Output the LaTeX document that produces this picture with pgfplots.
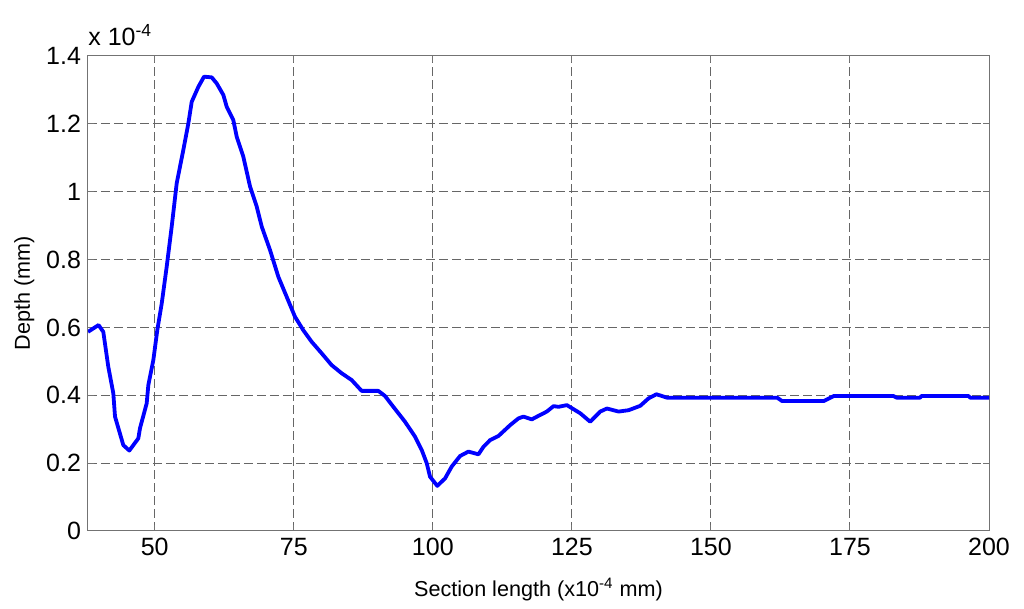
\documentclass[border=0pt]{standalone}
\usepackage{pgfplots}
\pgfplotsset{compat=1.18}
\usepackage{fontspec}
\setmainfont{Liberation Sans}
\begin{document}
\begin{tikzpicture}
\begin{axis}[
  scale only axis,
  width=450.5pt, height=237.5pt,
  xmin=38, xmax=200, ymin=0, ymax=1.4,
  xtick={50,75,100,125,150,175,200},
  ytick={0,0.2,0.4,0.6,0.8,1,1.2,1.4},
  /pgf/number format/assume math mode=true,
  tick label style={font=\fontsize{12.5}{14}\selectfont},
  label style={font=\fontsize{10.8}{12}\selectfont},
  xlabel={Section length (x10\textsuperscript{-4} mm)},
  ylabel={Depth (mm)},
  xlabel style={yshift=-4.5pt},
  ylabel style={yshift=-1pt},
  tick align=inside,
  major tick length=3pt,
  axis line style={black!55, line width=0.5pt},
  every tick/.style={black!55, line width=0.5pt},
  grid=major,
  major grid style={black!60, dash pattern=on 4.5pt off 2pt, line width=0.5pt},
]
\addplot[blue, line width=1.9pt, line join=round] coordinates {
(38.0,0.587) (39.9,0.607) (40.75,0.587) (41.65,0.484) (42.55,0.406) (42.86,0.337)
(44.35,0.253) (45.43,0.237) (47.05,0.273) (47.35,0.303) (48.55,0.376) (48.85,0.430)
(49.75,0.504) (50.46,0.592) (51.26,0.671) (52.15,0.779) (53.05,0.897) (53.95,1.025)
(55.14,1.123) (56.04,1.201) (56.65,1.265) (57.84,1.309) (58.86,1.339) (60.25,1.337)
(61.15,1.319) (62.34,1.285) (62.95,1.250) (64.13,1.211) (64.74,1.162) (65.93,1.103)
(67.14,1.015) (68.34,0.956) (69.24,0.897) (70.73,0.828) (72.23,0.749) (73.73,0.690)
(75.2,0.632) (76.7,0.592) (78.2,0.558) (80.0,0.524) (81.8,0.489) (83.6,0.465)
(85.4,0.445) (87.2,0.413) (90.2,0.413) (91.4,0.398) (92.9,0.366) (95.0,0.322)
(96.8,0.278) (98.0,0.239) (98.9,0.200) (99.5,0.160) (100.8,0.133) (102.2,0.155)
(103.4,0.190) (104.9,0.221) (106.4,0.234) (108.2,0.226) (109.1,0.248) (110.3,0.268)
(111.8,0.280) (113.9,0.312) (115.4,0.332) (116.3,0.337) (117.8,0.329) (119.3,0.342)
(120.5,0.352) (121.7,0.368) (122.6,0.366) (124.1,0.371) (126.5,0.347) (128.3,0.322)
(130.1,0.352) (131.3,0.361) (133.4,0.352) (135.2,0.356) (137.3,0.369) (138.8,0.391)
(140.2,0.403) (142.1,0.393) (161.9,0.393) (162.8,0.383) (170.3,0.383) (172.1,0.398)
(182.8,0.398) (183.4,0.393) (187.6,0.393) (187.9,0.398) (196.3,0.398) (196.6,0.393)
(200,0.393)
};
\end{axis}
\node[anchor=south west, inner sep=0pt, font=\fontsize{12.5}{14}\selectfont] at (0pt,242.5pt) {x 10\textsuperscript{-4}};
\useasboundingbox (-44pt,-39pt) rectangle (468pt,265.5pt);
\end{tikzpicture}
\end{document}
